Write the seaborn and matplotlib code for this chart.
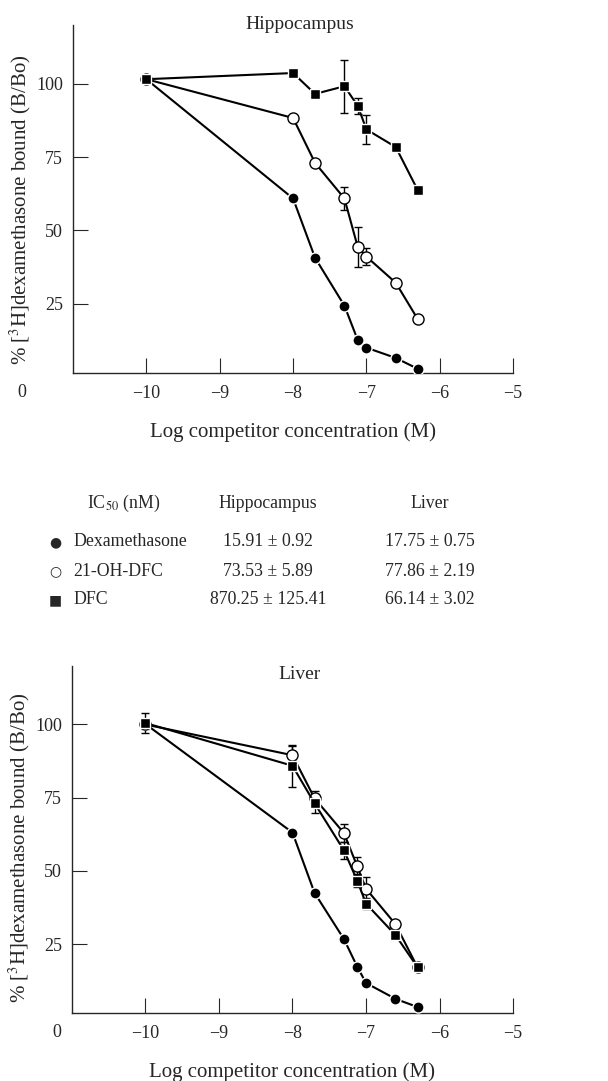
import matplotlib

matplotlib.use("Agg")

import matplotlib.pyplot as plt
import pandas as pd
import seaborn as sns

# log10 competitor concentration (M)
log_conc = [-10.0, -8.0, -7.70, -7.30, -7.12, -7.0, -6.60, -6.30]
compounds = ["Dexamethasone", "21-OH-DFC", "DFC"]

# hippocampus, % [3H]dexamethasone bound
hip_dex = [101.5, 60.9, 40.7, 24.4, 12.8, 10.1, 6.6, 2.9]
hip_oh = [101.5, 88.3, 73.0, 60.9, 44.5, 41.1, 32.2, 19.8]
hip_dfc = [101.5, 103.6, 96.5, 99.1, 92.5, 84.4, 78.4, 63.7]
hip_oh_err = [0, 0, 0, 4.0, 6.8, 3.0, 0, 0]
hip_dfc_err = [0, 0, 0, 9.0, 2.7, 5.0, 0, 0]

# liver
liv_dex = [100.2, 63.1, 42.5, 26.7, 17.3, 11.7, 6.3, 3.5]
liv_oh = [100.0, 89.5, 74.8, 62.9, 51.6, 43.9, 31.8, 17.1]
liv_dfc = [100.5, 85.9, 73.1, 57.0, 46.7, 38.8, 28.1, 17.1]
liv_oh_err = [1.5, 3.3, 2.6, 3.1, 3.0, 4.1, 0, 0]
liv_dfc_err = [3.5, 7.2, 3.2, 2.8, 2.3, 1.8, 0, 0]

# IC50 table
ic50_hip = ["15.91 ± 0.92", "73.53 ± 5.89", "870.25 ± 125.41"]
ic50_liv = ["17.75 ± 0.75", "77.86 ± 2.19", "66.14 ± 3.02"]
table_symbols = ["●", "○", "■"]

x_ticks = [-10, -9, -8, -7, -6, -5]
y_ticks = [25, 50, 75, 100]

sns.set_style("ticks")
plt.rcParams["font.family"] = ["Liberation Serif", "DejaVu Sans"]
plt.rcParams["mathtext.fontset"] = "stix"

marker_kw = {
    "Dexamethasone": dict(marker="o", ms=8, mfc="black", mec="white", mew=1.0),
    "21-OH-DFC": dict(marker="o", ms=8, mfc="white", mec="black", mew=1.0),
    "DFC": dict(marker="s", ms=7, mfc="black", mec="white", mew=1.0),
}


def make_frame(dex, oh, dfc, oh_err, dfc_err):
    rows = []
    zero = [0] * len(log_conc)
    for name, vals, errs in zip(compounds, [dex, oh, dfc], [zero, oh_err, dfc_err]):
        for x, y, e in zip(log_conc, vals, errs):
            rows.append({"logc": x, "bound": y, "err": e, "compound": name})
    return pd.DataFrame(rows)


def draw_panel(ax, df, title, title_y, zero_x, label_y):
    for name in compounds:
        sub = df[df["compound"] == name]
        has_err = sub[sub["err"] > 0]
        if len(has_err):
            ax.errorbar(has_err["logc"], has_err["bound"], yerr=has_err["err"], fmt="none",
                        ecolor="black", elinewidth=1.0, capsize=3, capthick=1.0, zorder=2)
        sns.lineplot(data=sub, x="logc", y="bound", ax=ax, color="black", lw=1.5,
                     sort=False, estimator=None, zorder=3, **marker_kw[name])
    ax.set_xlim(-11, -5)
    ax.set_ylim(1.5, 120)
    ax.set_xticks(x_ticks)
    ax.set_xticklabels([f"\u2212{abs(t)}" for t in x_ticks])
    ax.set_yticks(y_ticks)
    ax.tick_params(direction="in", length=11, width=0.8, labelsize=13)
    ax.tick_params(axis="x", pad=9)
    ax.tick_params(axis="y", pad=7)
    sns.despine(ax=ax)
    for side in ["left", "bottom"]:
        ax.spines[side].set_linewidth(1.0)
    ax.set_xlabel("Log competitor concentration (M)", fontsize=15, labelpad=14)
    ax.set_ylabel("% [$^3$H]dexamethasone bound (B/Bo)", fontsize=15)
    ax.yaxis.set_label_coords(-0.091, label_y)
    ax.text(0.516, title_y, title, transform=ax.transAxes, ha="center", va="center", fontsize=14)
    ax.text(zero_x, -0.057, "0", transform=ax.transAxes, ha="center", va="center", fontsize=13)


fig = plt.figure(figsize=(6.08, 10.81), dpi=100)
ax_top = fig.add_axes([0.120, 0.655, 0.724, 0.322])
ax_bot = fig.add_axes([0.118, 0.063, 0.726, 0.321])

draw_panel(ax_top, make_frame(hip_dex, hip_oh, hip_dfc, hip_oh_err, hip_dfc_err),
           "Hippocampus", 1.0, -0.116, 0.468)
draw_panel(ax_bot, make_frame(liv_dex, liv_oh, liv_dfc, liv_oh_err, liv_dfc_err),
           "Liver", 0.974, -0.034, 0.476)

# IC50 table between the panels
H = 1081.0
fs = 12.8
fig.text(124 / 608, 1 - 503 / H, "IC$_{50}$ (nM)", ha="center", va="center", fontsize=fs)
fig.text(268 / 608, 1 - 503 / H, "Hippocampus", ha="center", va="center", fontsize=fs)
fig.text(430 / 608, 1 - 503 / H, "Liver", ha="center", va="center", fontsize=fs)
for i, (name, sym) in enumerate(zip(compounds, table_symbols)):
    y = 1 - (542 + 29 * i) / H
    fig.text(55 / 608, y, sym, ha="center", va="center", fontsize=10,
             family=["DejaVu Sans"])
    fig.text(73 / 608, y, name, ha="left", va="center", fontsize=fs)
    fig.text(268 / 608, y, ic50_hip[i], ha="center", va="center", fontsize=fs)
    fig.text(430 / 608, y, ic50_liv[i], ha="center", va="center", fontsize=fs)

fig.savefig("out.png", dpi=100)
plt.close(fig)
